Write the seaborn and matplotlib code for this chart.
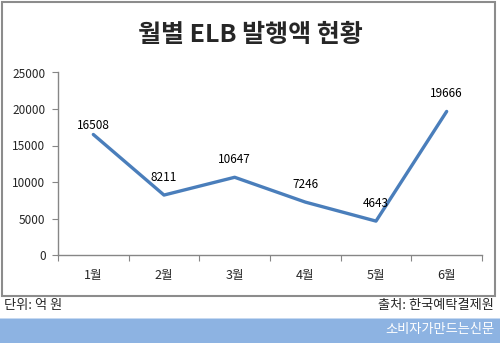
import matplotlib
matplotlib.use("Agg")
import matplotlib.pyplot as plt
import seaborn as sns
import pandas as pd
from matplotlib.patches import Rectangle
from matplotlib.ticker import FixedLocator, NullFormatter

months = ["1월", "2월", "3월", "4월", "5월", "6월"]
values = [16508, 8211, 10647, 7246, 4643, 19666]
label_offsets = [6.5, 13, 13, 13, 13, 13]
yticks = [0, 5000, 10000, 15000, 20000, 25000]
title = "월별 ELB 발행액 현황"
unit_text = "단위: 억 원"
source_text = "출처: 한국예탁결제원"
brand_text = "소비자가만드는신문"

sns.set_style("white")
plt.rcParams['font.family'] = ['Noto Sans CJK KR', 'DejaVu Sans']

W, H = 500, 343
fig = plt.figure(figsize=(W / 100, H / 100), dpi=100)

def fx(px):
    return px / W

def fy(py):
    return 1 - py / H

ax = fig.add_axes([fx(58), fy(255), fx(482) - fx(58), fy(72.5) - fy(255)])

df = pd.DataFrame({"month": months, "value": values})
df["pos"] = range(len(months))
sns.lineplot(data=df, x="pos", y="value", ax=ax, color="#4A7EBB", linewidth=2.4,
             sort=False, legend=False)

for i, (v, off) in enumerate(zip(values, label_offsets)):
    ax.annotate(f"{v}", (i, v), xytext=(0, off), textcoords="offset points",
                ha="center", va="center", fontsize=8.5, color="black")

ax.set_xlim(-0.5, len(months) - 0.5)
ax.set_ylim(0, 25000)
ax.set_yticks(yticks)
ax.set_yticklabels([str(t) for t in yticks], fontsize=8.5)
ax.xaxis.set_major_locator(FixedLocator([i - 0.5 for i in range(len(months) + 1)]))
ax.xaxis.set_major_formatter(NullFormatter())
ax.xaxis.set_minor_locator(FixedLocator(list(range(len(months)))))
ax.set_xticklabels(months, minor=True, fontsize=9)
ax.tick_params(axis="x", which="major", length=4, color="#868686", direction="out", bottom=True)
ax.tick_params(axis="x", which="minor", length=0, pad=10)
ax.tick_params(axis="y", length=4, color="#868686", direction="out", left=True, pad=5)
ax.set_xlabel("")
ax.set_ylabel("")
for s in ["top", "right"]:
    ax.spines[s].set_visible(False)
for s in ["left", "bottom"]:
    ax.spines[s].set_color("#868686")
    ax.spines[s].set_linewidth(1)
ax.grid(False)

# outer border box
fig.patches.append(Rectangle((fx(2), fy(296)), fx(495) - fx(2), fy(1.5) - fy(296),
                             transform=fig.transFigure, fill=False,
                             edgecolor="#8C8C8C", linewidth=1.5))
# title
fig.text(0.5, fy(35), title, ha="center", va="center", fontsize=18, fontweight="bold")
# footer texts
fig.text(fx(4), fy(305), unit_text, ha="left", va="center", fontsize=9.5)
fig.text(fx(494), fy(305), source_text, ha="right", va="center", fontsize=9.5)
# blue band
fig.patches.append(Rectangle((0, 0), 1, fy(318), transform=fig.transFigure,
                             facecolor="#8DB3E2", edgecolor="none"))
fig.patches.append(Rectangle((0, fy(319)), 1, fy(318) - fy(319), transform=fig.transFigure,
                             facecolor="#C6D9F1", edgecolor="none"))
fig.text(fx(494), fy(330), brand_text, ha="right", va="center", fontsize=9.5, color="white")

fig.savefig("out.png", dpi=100)
